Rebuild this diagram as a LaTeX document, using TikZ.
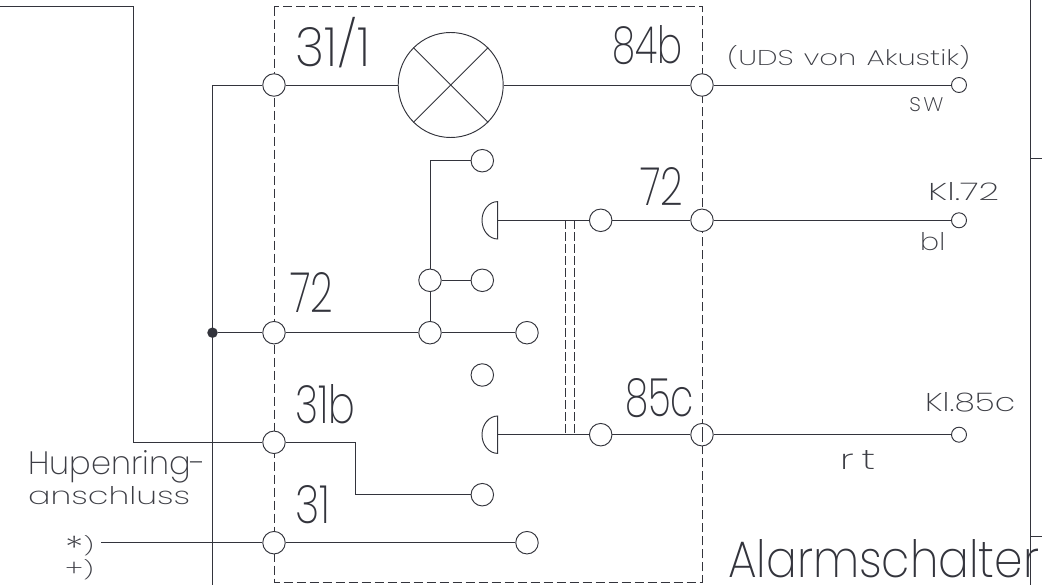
\documentclass[tikz,border=0pt]{standalone}
\usepackage{fontspec}
\setmainfont{Poppins ExtraLight}
\definecolor{ink}{HTML}{33343C}
\definecolor{tink}{HTML}{3C3D44}
\newcommand{\fit}[3]{\resizebox{#1pt}{#2pt}{#3}}
\tikzset{
  term/.style={circle,draw=ink,fill=white,line width=.95pt,minimum size=22.5pt,inner sep=0pt},
  endterm/.style={circle,draw=ink,fill=white,line width=.95pt,minimum size=15pt,inner sep=0pt},
  lampbody/.style={circle,draw=ink,fill=white,line width=.95pt,minimum size=105pt,inner sep=0pt},
  wire/.style={draw=ink,line width=.95pt},
  boxline/.style={draw=ink,line width=.95pt,dash pattern=on 9pt off 4pt},
  linkline/.style={draw=ink,line width=.85pt,dash pattern=on 9pt off 3pt},
  txt/.style={inner sep=0pt,anchor=north west,text=tink},
  bigtxt/.style={inner sep=0pt,anchor=north west,text=ink},
}
\begin{document}
\begin{tikzpicture}[x=1pt,y=-1pt]
\useasboundingbox (0,0) rectangle (1042,585);
% frame on the right
\coordinate (fa) at (1030.5,0); \coordinate (fb) at (1030.5,585);
\coordinate (fc) at (1030.5,158.5); \coordinate (fd) at (1042,158.5);
\coordinate (fe) at (1030.5,536.5); \coordinate (ff) at (1042,536.5);
\draw[wire] (fa) -- (fb); \draw[wire] (fc) -- (fd); \draw[wire] (fe) -- (ff);
% dashed housing
\coordinate (bx1) at (274,6.7); \coordinate (bx2) at (702,582);
\draw[boxline] (bx1) rectangle (bx2);
% terminals
\node[term] (t311) at (274,85) {};
\node[term] (t84b) at (702,85) {};
\node[term] (t72l) at (274,332.7) {};
\node[term] (t31b) at (274,442.3) {};
\node[term] (t31) at (274,542.7) {};
\node[term] (t72r) at (702,220.3) {};
\node[term] (t85c) at (702,434.7) {};
\node[term] (m72) at (600.7,220.3) {};
\node[term] (m85) at (600.7,434.7) {};
\node[term] (j1) at (430,280.3) {};
\node[term] (j2) at (430,332.7) {};
\node[term] (s1) at (482.3,160.7) {};
\node[term] (s2) at (482.3,280.3) {};
\node[term] (s3) at (527,332.7) {};
\node[term] (s4) at (482.3,375) {};
\node[term] (s5) at (482.3,494.7) {};
\node[term] (s6) at (527,542.7) {};
\node[endterm] (e1) at (959,85) {};
\node[endterm] (e2) at (959,220.3) {};
\node[endterm] (e3) at (959,434.7) {};
\node[lampbody] (lamp) at (450.7,85) {};
\node[circle,fill=ink,inner sep=0pt,minimum size=10.5pt] (dot) at (212.5,332.7) {};
% dash seen through terminal 85c
\coordinate (dq1) at (702,427); \coordinate (dq2) at (702,442);
\draw[wire,line width=.8pt] (dq1) -- (dq2);
% lamp
\draw[wire] (lamp.45) -- (lamp.225);
\draw[wire] (lamp.135) -- (lamp.315);
\draw[wire] (t311) -- (lamp);
\draw[wire] (lamp) -- (t84b);
% outer wiring
\coordinate (w0) at (0,6.5); \coordinate (w1) at (133.5,6.5); \coordinate (w2) at (133.5,442.3);
\draw[wire] (w0) -- (w1) -- (w2) -- (t31b);
\coordinate (b0) at (212.5,85); \coordinate (b1) at (212.5,585);
\draw[wire] (t311) -- (b0) -- (b1);
\draw[wire] (dot) -- (t72l);
\coordinate (st) at (101,542.7);
\draw[wire] (st) -- (t31);
\draw[wire] (t84b) -- (e1);
\draw[wire] (t72r) -- (e2);
\draw[wire] (t85c) -- (e3);
% inner wiring
\draw[wire] (t72l) -- (j2);
\draw[wire] (j2) -- (s3);
\draw[wire] (j2) -- (j1);
\draw[wire] (j1) -- (s2);
\draw[wire] (j1) |- (s1);
\coordinate (r1) at (355,442.3); \coordinate (r2) at (355,494.7);
\draw[wire] (t31b) -- (r1) -- (r2) -- (s5);
\draw[wire] (t31) -- (s6);
% contacts
\coordinate (h1) at (497.7,220.3); \coordinate (h2) at (497.7,434.7);
\draw[wire] ([yshift=-18.7pt]h1) arc[start angle=90,end angle=270,x radius=15.7pt,y radius=-18.7pt] -- cycle;
\draw[wire] ([yshift=-18.7pt]h2) arc[start angle=90,end angle=270,x radius=15.7pt,y radius=-18.7pt] -- cycle;
\draw[wire] (h1) -- (m72);
\draw[wire] (m72) -- (t72r);
\draw[wire] (h2) -- (m85);
\draw[wire] (m85) -- (t85c);
% coupling
\coordinate (k1) at (565.7,220.3); \coordinate (k2) at (565.7,434.7);
\coordinate (k3) at (574,220.3); \coordinate (k4) at (574,434.7);
\draw[linkline] (k1) -- (k2);
\draw[linkline] (k3) -- (k4);
% large labels
\node[bigtxt] (l1) at (295,27) {\fit{75}{39}{31\smash{\raisebox{.1em}{\scalebox{1}[.85]{/}}}1}};
\node[bigtxt] (l2) at (612,25) {\fit{70}{38}{84b}};
\node[bigtxt] (l3) at (640,167) {\fit{43}{38}{72}};
\node[bigtxt] (l4) at (290,272) {\fit{43}{40}{72}};
\node[bigtxt] (l5) at (295,384) {\fit{60}{39}{31b}};
\node[bigtxt] (l6) at (295,485) {\fit{35}{38}{31}};
\node[bigtxt] (l7) at (625,378) {\fit{69}{38}{85c}};
\node[bigtxt] (l8) at (728,539) {\fit{311}{38}{Alarmschalter}};
% small labels
\node[txt] (a1) at (727,45) {\fit{243}{20}{(UDS\hspace{.35em}von\hspace{.35em}Akustik)}};
\node[txt] (a2) at (909,97) {\fit{34}{14}{s\hspace{.1em}w}};
\node[txt] (a3) at (928,182) {\fit{71}{18}{Kl.72}};
\node[txt] (a4) at (920,232) {\fit{25}{18}{bl}};
\node[txt] (a5) at (925,392) {\fit{90}{19}{Kl.85c}};
\node[txt] (a6) at (840,450) {\fit{35}{19}{r\hspace{.2em}t}};
\node[txt] (a7) at (28,450) {\fit{178}{24}{Hupenring-}};
\node[txt] (a8) at (28,486) {\fit{162}{18}{anschluss}};
\node[txt] (a9) at (65,535) {\fit{29}{17}{\smash{\raisebox{-.3em}{\scalebox{1.4}{*}}}\scalebox{1}[.8]{)}}};
\node[txt] (a10) at (65,559) {\fit{29}{17}{+\scalebox{1}[.8]{)}}};
\end{tikzpicture}
\end{document}
